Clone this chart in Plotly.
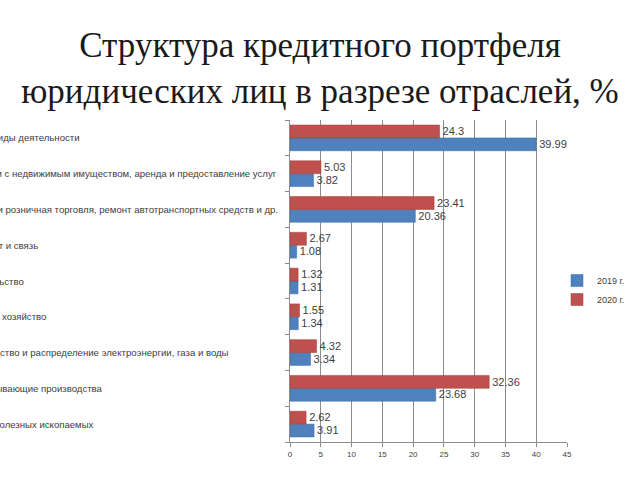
import plotly.graph_objects as go

categories = [
    "Прочие виды деятельности",
    "Операции с недвижимым имуществом, аренда и предоставление услуг",
    "Оптовая и розничная торговля, ремонт автотранспортных средств и др.",
    "Транспорт и связь",
    "Строительство",
    "Сельское хозяйство",
    "Производство и распределение электроэнергии, газа и воды",
    "Обрабатывающие производства",
    "Добыча полезных ископаемых",
]
values_2019 = [39.99, 3.82, 20.36, 1.08, 1.31, 1.34, 3.34, 23.68, 3.91]
values_2020 = [24.3, 5.03, 23.41, 2.67, 1.32, 1.55, 4.32, 32.36, 2.62]
x_ticks = [0, 5, 10, 15, 20, 25, 30, 35, 40, 45]

fig = go.Figure()
fig.add_trace(go.Bar(
    y=categories, x=values_2019, orientation="h", name="2019 г.",
    marker=dict(color="#4F81BD", line=dict(color="#3A6BA5", width=0.5)),
    text=[str(v) for v in values_2019], textposition="outside",
    textfont=dict(size=12, color="#404040", family="Liberation Sans"),
    cliponaxis=False,
))
fig.add_trace(go.Bar(
    y=categories, x=values_2020, orientation="h", name="2020 г.",
    marker=dict(color="#C0504D", line=dict(color="#A03C3A", width=0.5)),
    text=[str(v) for v in values_2020], textposition="outside",
    textfont=dict(size=12, color="#404040", family="Liberation Sans"),
    cliponaxis=False,
))

# category labels: left-aligned, starting just beyond the left edge of the page (as in the reference)
plot_left, plot_w = 290, 277
label_x = (-45 - plot_left) / plot_w
for c in categories:
    fig.add_annotation(
        x=label_x, xref="paper", y=c, yref="y", text=c, showarrow=False,
        xanchor="left", yanchor="middle",
        font=dict(size=9.6, color="#404040", family="Liberation Sans"),
    )

fig.update_layout(
    width=640, height=480,
    margin=dict(l=290, r=73, t=120, b=38, autoexpand=False),
    paper_bgcolor="white", plot_bgcolor="white",
    barmode="group", bargap=0.28, bargroupgap=0,
    title=dict(
        text="Структура кредитного портфеля<br>юридических лиц в разрезе отраслей, %",
        x=0.5, xanchor="center", y=1 - 57 / 480, yanchor="middle",
        font=dict(family="Liberation Serif", size=35, color="#1a1a1a"),
    ),
    legend=dict(
        x=(557 - plot_left) / plot_w, xanchor="left", y=0.472, yanchor="middle",
        font=dict(size=9, color="#404040", family="Liberation Sans"),
        bgcolor="rgba(0,0,0,0)", itemwidth=30, tracegroupgap=0,
    ),
    showlegend=True,
)
fig.update_xaxes(
    range=[0, 45], tickvals=x_ticks, showgrid=True, gridcolor="#8c8c8c", gridwidth=1,
    showline=True, linecolor="#8c8c8c", ticks="outside", ticklen=4, tickcolor="#8c8c8c",
    tickfont=dict(size=8, color="#404040", family="Liberation Sans"), zeroline=False,
)
fig.update_yaxes(
    categoryorder="array", categoryarray=categories[::-1], automargin=False,
    showline=True, linecolor="#8c8c8c", ticks="outside", ticklen=4, tickcolor="#8c8c8c",
    tickson="boundaries", showticklabels=False,
)

fig.write_html("out.html")
